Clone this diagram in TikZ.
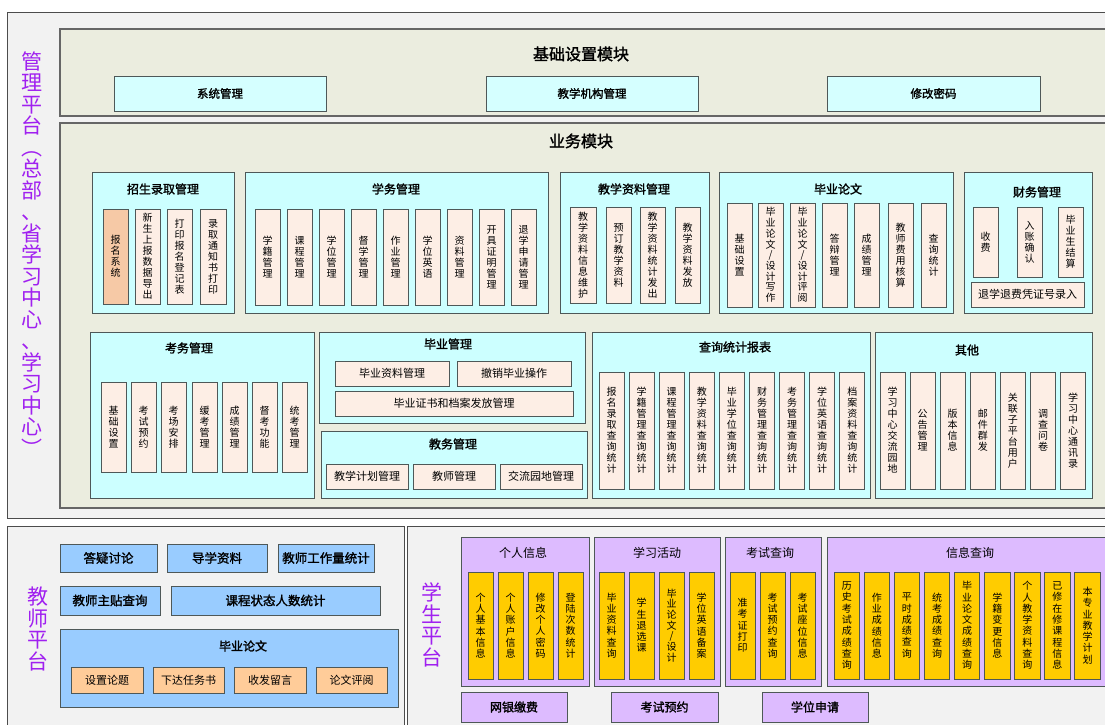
\documentclass[tikz,border=0pt]{standalone}
\usepackage{fontspec}
\setmainfont{Noto Sans CJK SC}[AutoFakeBold=1.6]
\definecolor{platbg}{HTML}{F2F2F2}
\definecolor{modbg}{HTML}{EBEDDF}
\definecolor{grpcyan}{HTML}{CCFFFF}
\definecolor{hbcyan}{HTML}{D5FFFF}
\definecolor{subpeach}{HTML}{FDEEE5}
\definecolor{peachdark}{HTML}{F6C9A6}
\definecolor{tblue}{HTML}{99CCFF}
\definecolor{torange}{HTML}{FFCC99}
\definecolor{slav}{HTML}{DDBBFF}
\definecolor{sgold}{HTML}{FFCC00}
\definecolor{lblpurple}{HTML}{A020F0}
\definecolor{bord}{HTML}{4E5858}
\def\vt#1{\expandafter\vtA#1\vtend}
\def\vtA#1#2\vtend{#1\ifx\relax#2\relax\else\\\vtA#2\vtend\fi}
\newcommand\bx[7]{\node[#6,minimum width={(#4)-(#2)},minimum height={(#5)-(#3)}] (#1) at ({((#2)+(#4))/2},{((#3)+(#5))/2}) {#7};}
\begin{document}
\begin{tikzpicture}[x=1pt,y=-1pt,
  every node/.style={inner sep=0pt,outer sep=0pt},
  plat/.style={draw=black!70,line width=1pt,fill=platbg},
  mod/.style={draw=black!60,line width=1.3pt,fill=modbg},
  grp/.style={draw=bord,line width=1pt,fill=grpcyan},
  hb/.style={draw=bord,line width=1pt,fill=hbcyan,font=\fontsize{11.5}{13}\selectfont\bfseries},
  hsub/.style={draw=bord,line width=1pt,fill=subpeach,font=\fontsize{11}{13}\selectfont},
  sub/.style={draw=bord,line width=1pt,fill=subpeach,align=center,font=\fontsize{10}{11}\selectfont},
  modt/.style={font=\fontsize{16}{18}\selectfont\bfseries},
  gt/.style={font=\fontsize{12}{14}\selectfont\bfseries},
  plbl/.style={text=lblpurple,align=center,font=\fontsize{21}{21.5}\selectfont},
  tb/.style={draw=bord,line width=1pt,fill=tblue,font=\fontsize{12.5}{14}\selectfont\bfseries},
  tsub/.style={draw=bord,line width=1pt,fill=torange,font=\fontsize{11}{13}\selectfont},
  sgrp/.style={draw=bord,line width=1pt,fill=slav},
  sgt/.style={font=\fontsize{12}{14}\selectfont},
  ssub/.style={draw=bord,line width=1pt,fill=sgold,align=center,font=\fontsize{10}{11.3}\selectfont},
  sb/.style={draw=bord,line width=1pt,fill=slav,font=\fontsize{12}{14}\selectfont\bfseries}]
\useasboundingbox (0,0) rectangle (1105,724);
\clip (0,0) rectangle (1105,724);
\fill[white] (0,0) rectangle (1105,724);
% platforms
\bx{mgmt}{7}{12}{1110}{518}{plat}{}
\bx{teach}{7}{526}{404}{740}{plat}{}
\bx{stud}{407}{526}{1110}{740}{plat}{}
\node[plbl] (mgmtlbl) at (32,254) {\vt{管理平台︵总部、省学习中心、学习中心︶}};
\node[plbl] (teachlbl) at (38,629) {\vt{教师平台}};
\node[plbl] (studlbl) at (432,625) {\vt{学生平台}};
% base module
\bx{basemod}{60}{29}{1110}{116}{mod}{}
\node[modt] (basetitle) at (581,54) {基础设置模块};
\bx{sys}{114}{76}{326}{111}{hb}{系统管理}
\bx{org}{486}{76}{698}{111}{hb}{教学机构管理}
\bx{pwd}{827}{76}{1040}{111}{hb}{修改密码}
% business module
\bx{bizmod}{60}{123}{1110}{508}{mod}{}
\node[modt] (biztitle) at (581,141) {业务模块};
% 招生录取管理
\bx{zs}{92}{172}{234}{313}{grp}{}
\node[gt] (zst) at (163,189) {招生录取管理};
\bx{zs0}{103}{209}{128}{304}{sub,fill=peachdark}{\vt{报名系统}}
\bx{zs1}{135}{209}{160}{304}{sub}{\vt{新生上报数据导出}}
\bx{zs2}{167}{209}{192}{304}{sub}{\vt{打印报名登记表}}
\bx{zs3}{200}{209}{226}{304}{sub}{\vt{录取通知书打印}}
% 学务管理
\bx{xw}{245}{172}{548}{313}{grp}{}
\node[gt] (xwt) at (396,189) {学务管理};
\foreach \t [count=\i from 0] in {学籍管理,课程管理,学位管理,督学管理,作业管理,学位英语,资料管理,开具证明管理,退学申请管理}{
  \pgfmathsetmacro\xa{255+32*\i}
  \bx{xw\i}{\xa}{209}{\xa+25}{305}{sub}{\vt{\t}}
}
% 教学资料管理
\bx{jx}{560}{172}{709}{313}{grp}{}
\node[gt] (jxt) at (634,189) {教学资料管理};
\bx{jx0}{570}{207}{596}{303}{sub}{\vt{教学资料信息维护}}
\bx{jx1}{606}{207}{631}{303}{sub}{\vt{预订教学资料}}
\bx{jx2}{640}{207}{665}{303}{sub}{\vt{教学资料统计发出}}
\bx{jx3}{675}{207}{700}{303}{sub}{\vt{教学资料发放}}
% 毕业论文
\bx{lw}{719}{172}{953}{313}{grp}{}
\node[gt] (lwt) at (838,189) {毕业论文};
\bx{lw0}{727}{203}{752}{307}{sub}{\vt{基础设置}}
\bx{lw1}{758}{203}{783}{307}{sub,font=\fontsize{10}{10.7}\selectfont}{\vt{毕业论文/设计写作}}
\bx{lw2}{790}{203}{815}{307}{sub,font=\fontsize{10}{10.7}\selectfont}{\vt{毕业论文/设计评阅}}
\bx{lw3}{822}{203}{847}{307}{sub}{\vt{答辩管理}}
\bx{lw4}{854}{203}{879}{307}{sub}{\vt{成绩管理}}
\bx{lw5}{888}{203}{913}{307}{sub}{\vt{教师费用核算}}
\bx{lw6}{921}{203}{946}{307}{sub}{\vt{查询统计}}
% 财务管理
\bx{cw}{964}{172}{1092}{313}{grp}{}
\node[gt] (cwt) at (1037,192) {财务管理};
\bx{cw0}{973}{207}{998}{277}{sub}{\vt{收费}}
\bx{cw1}{1017}{207}{1042}{277}{sub}{\vt{入账确认}}
\bx{cw2}{1058}{207}{1083}{277}{sub}{\vt{毕业生结算}}
\bx{cw3}{971}{282}{1084}{307}{hsub}{退学退费凭证号录入}
% 考务管理
\bx{kw}{90}{332}{314}{498}{grp}{}
\node[gt] (kwt) at (189,348) {考务管理};
\foreach \t/\xa [count=\i from 0] in {基础设置/101,考试预约/131,考场安排/161,缓考管理/192,成绩管理/222,督考功能/252,统考管理/282}{
  \bx{kw\i}{\xa}{382}{\xa+25}{472}{sub}{\vt{\t}}
}
% 毕业管理
\bx{by}{319}{332}{585}{423}{grp}{}
\node[gt] (byt) at (448,344) {毕业管理};
\bx{by0}{335}{361}{449}{386}{hsub}{毕业资料管理}
\bx{by1}{457}{361}{571}{386}{hsub}{撤销毕业操作}
\bx{by2}{335}{391}{573}{416}{hsub}{毕业证书和档案发放管理}
% 教务管理
\bx{jw}{321}{431}{587}{498}{grp}{}
\node[gt] (jwt) at (453,444) {教务管理};
\bx{jw0}{326}{464}{408}{489}{hsub}{教学计划管理}
\bx{jw1}{413}{464}{495}{489}{hsub}{教师管理}
\bx{jw2}{500}{464}{582}{489}{hsub}{交流园地管理}
% 查询统计报表
\bx{cx}{592}{332}{870}{498}{grp}{}
\node[gt] (cxt) at (735,347) {查询统计报表};
\foreach \t [count=\i from 0] in {报名录取查询统计,学籍管理查询统计,课程管理查询统计,教学资料查询统计,毕业学位查询统计,财务管理查询统计,考务管理查询统计,学位英语查询统计,档案资料查询统计}{
  \pgfmathsetmacro\xa{599+30.1*\i}
  \bx{cx\i}{\xa}{372}{\xa+25}{489}{sub}{\vt{\t}}
}
% 其他
\bx{qt}{875}{332}{1092}{498}{grp}{}
\node[gt] (qtt) at (967,350) {其他};
\foreach \t [count=\i from 0] in {学习中心交流园地,公告管理,版本信息,邮件群发,关联子平台用户,调查问卷,学习中心通讯录}{
  \pgfmathsetmacro\xa{880+30.1*\i}
  \bx{qt\i}{\xa}{372}{\xa+25}{489}{sub}{\vt{\t}}
}
% teacher platform
\bx{t0}{60}{544}{157}{572}{tb}{答疑讨论}
\bx{t1}{167}{544}{267}{572}{tb}{导学资料}
\bx{t2}{278}{544}{374}{572}{tb}{教师工作量统计}
\bx{t3}{60}{586}{160}{615}{tb}{教师主贴查询}
\bx{t4}{171}{586}{380}{615}{tb}{课程状态人数统计}
\bx{tlw}{60}{629}{398}{707}{tb}{}
\node[gt] (tlwt) at (243,646) {毕业论文};
\bx{tlw0}{71}{667}{143}{693}{tsub}{设置论题}
\bx{tlw1}{153}{667}{224}{693}{tsub}{下达任务书}
\bx{tlw2}{234}{667}{306}{693}{tsub}{收发留言}
\bx{tlw3}{316}{667}{387}{693}{tsub}{论文评阅}
% student platform
\bx{gr}{461}{537}{589}{686}{sgrp}{}
\node[sgt] (grt) at (523,553) {个人信息};
\bx{gr0}{468}{572}{493}{679}{ssub}{\vt{个人基本信息}}
\bx{gr1}{498}{572}{523}{679}{ssub}{\vt{个人账户信息}}
\bx{gr2}{528}{572}{553}{679}{ssub}{\vt{修改个人密码}}
\bx{gr3}{558}{572}{583}{679}{ssub}{\vt{登陆次数统计}}
\bx{xx}{594}{537}{720}{686}{sgrp}{}
\node[sgt] (xxt) at (657,553) {学习活动};
\bx{xx0}{599}{572}{624}{679}{ssub}{\vt{毕业资料查询}}
\bx{xx1}{629}{572}{654}{679}{ssub}{\vt{学生退选课}}
\bx{xx2}{659}{572}{684}{679}{ssub,font=\fontsize{10}{10.7}\selectfont}{\vt{毕业论文/设计}}
\bx{xx3}{689}{572}{714}{679}{ssub}{\vt{学位英语备案}}
\bx{ks}{725}{537}{821}{686}{sgrp}{}
\node[sgt] (kst) at (770,553) {考试查询};
\bx{ks0}{730}{572}{755}{679}{ssub}{\vt{准考证打印}}
\bx{ks1}{760}{572}{785}{679}{ssub}{\vt{考试预约查询}}
\bx{ks2}{790}{572}{815}{679}{ssub}{\vt{考试座位信息}}
\bx{xq}{827}{537}{1112}{686}{sgrp}{}
\node[sgt] (xqt) at (970,553) {信息查询};
\foreach \t [count=\i from 0] in {历史考试成绩查询,作业成绩信息,平时成绩查询,统考成绩查询,毕业论文成绩查询,学籍变更信息,个人教学资料查询,已修在修课程信息,本专业教学计划}{
  \pgfmathsetmacro\xa{834+30.1*\i}
  \bx{xq\i}{\xa}{572}{\xa+25.5}{679}{ssub}{\vt{\t}}
}
\bx{s0}{461}{692}{567}{722}{sb}{网银缴费}
\bx{s1}{611}{692}{718}{722}{sb}{考试预约}
\bx{s2}{762}{692}{868}{722}{sb}{学位申请}
\end{tikzpicture}
\end{document}
